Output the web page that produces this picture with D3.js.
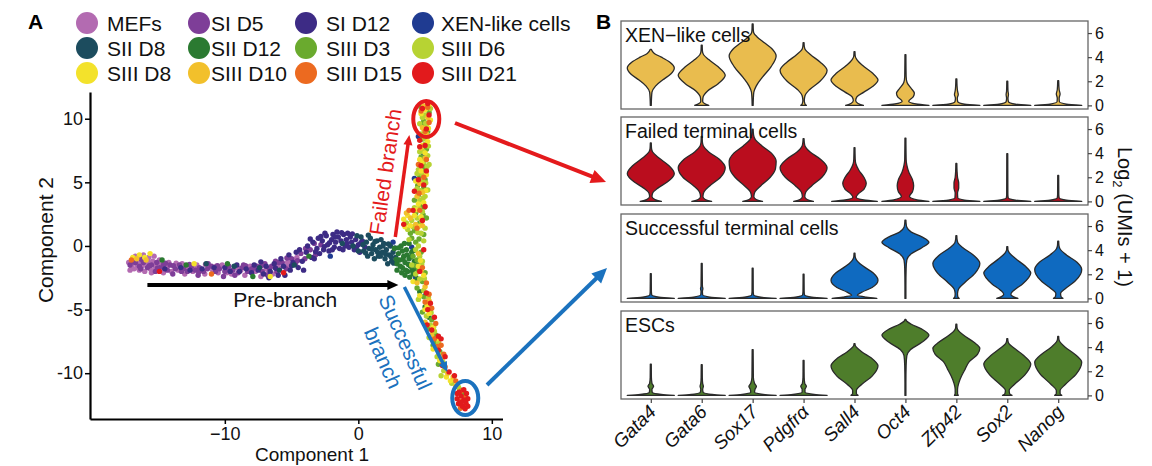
<!DOCTYPE html>
<html><head><meta charset="utf-8">
<script src="https://cdn.jsdelivr.net/npm/d3@7"></script>
<style>body{margin:0;background:#fff}svg{display:block}</style>
</head><body><svg id="c" width="1152" height="466"></svg>
<script>
// ---------------- DATA ----------------
const legendLabels = ["MEFs","SI D5","SI D12","XEN-like cells","SII D8","SII D12","SIII D3","SIII D6","SIII D8","SIII D10","SIII D15","SIII D21"];
const legendColors = ["#B36BB1","#7E3E98","#3D2B85","#1F3B91","#1C4C5E","#2B7A31","#6AAA2E","#B7D333","#F3E22B","#F2C02B","#EC6A20","#E21A1C"];

// cells: flat [x, y, x, y, ...] in Component 1 / Component 2 units
const cellsMEFs = [-17.2,-1.3,-17.0,-1.6,-16.9,-1.1,-16.8,-1.8,-16.6,-1.4,-16.5,-0.9,-16.4,-1.9,-16.3,-1.2,-16.2,-1.6,-16.0,-2.0,-15.9,-1.0,-15.8,-1.4,-15.6,-1.8,-15.5,-2.1,-15.4,-1.2,-15.2,-1.6,-15.0,-1.9,-14.8,-1.4,-14.6,-2.1,-14.4,-1.7,-14.2,-1.3,-14.0,-2.0,-13.8,-1.6,-13.5,-1.9,-13.2,-1.4,-13.0,-2.2,-12.7,-1.7,-12.4,-2.0,-12.1,-1.5,-11.8,-1.9,-11.5,-2.2,-11.2,-1.6,-10.9,-1.9,-10.5,-2.1,-10.2,-1.5,-9.9,-1.8,-9.5,-2.2,-9.2,-1.7,-8.8,-1.9,-8.5,-2.3,-8.1,-1.6,-7.7,-2.0,-7.3,-2.4,-6.9,-1.8,-6.4,-2.2,-5.9,-1.7,-5.3,-1.3,-4.6,-0.9,-16.7,-0.8,-16.1,-0.7,-15.7,-0.9,-15.3,-0.8,-17.1,-1.9,-14.9,-1.1,
 -16.95,-1.45,-16.55,-1.7,-16.15,-1.45,-15.75,-1.25,-15.35,-1.95,-14.75,-1.75,-14.25,-1.55,-13.65,-1.35,-12.95,-1.75,-12.25,-1.75,-11.45,-1.45,-10.65,-1.6,-9.85,-2.1,-9.0,-1.75,-8.25,-1.9,-7.45,-1.75,-6.75,-2.05,-6.05,-1.5,-5.25,-1.6,-4.85,-1.1];
const cellsSID5 = [-17.1,-1.5,-16.7,-1.3,-16.4,-1.6,-16.1,-1.3,-15.8,-1.7,-15.5,-1.5,-15.1,-1.3,-14.9,-1.7,-14.6,-1.5,-14.3,-1.9,-14.1,-1.5,-13.7,-1.8,-13.4,-1.5,-13.1,-1.8,-12.8,-2.0,-12.5,-1.6,-12.2,-1.9,-11.9,-1.7,-11.6,-2.0,-11.3,-1.8,-11.0,-1.6,-10.7,-2.0,-10.4,-1.8,-10.0,-2.0,-9.7,-1.6,-9.4,-1.9,-9.0,-2.1,-8.7,-1.7,-8.3,-2.0,-8.0,-1.8,-7.6,-1.6,-7.2,-2.0,-6.8,-2.3,-6.5,-1.6,-6.1,-2.0,-5.7,-1.3,-5.4,-1.8,-5.0,-1.0,-4.7,-1.4,-4.3,-0.6,-4.0,-1.0,-3.6,-0.3,-3.2,-0.7,-2.8,0.1,-13.9,-2.2,-12.0,-2.3,-10.1,-2.4,-8.6,-1.5,-7.0,-1.4,-6.2,-1.2,-16.3,-1.8,-15.2,-2.0,
 -16.85,-1.25,-16.25,-1.05,-15.65,-1.55,-15.05,-1.75,-14.45,-1.35,-13.85,-1.55,-13.25,-2.0,-12.65,-1.45,-11.95,-2.05,-11.25,-1.4,-10.55,-1.55,-9.75,-1.85,-9.25,-2.3,-8.45,-1.55,-7.85,-1.75,-7.25,-1.55,-6.65,-1.8,-5.95,-1.3,-5.35,-0.95,-4.55,-1.15,-3.95,-0.2,-3.3,0.2];
const cellsSID12 = [-14.5,-1.8,-13.3,-1.7,-12.6,-1.9,-11.7,-1.8,-10.8,-1.7,-10.0,-1.7,-9.6,-2.0,-9.1,-1.5,-8.9,-2.0,-8.4,-1.8,-8.0,-2.1,-7.8,-1.5,-7.5,-1.9,-7.1,-2.2,-6.9,-1.6,-6.6,-2.0,-6.3,-1.4,-6.0,-2.3,-5.8,-1.0,-5.6,-1.6,-5.2,-0.7,-5.1,-1.9,-4.9,-1.3,-4.5,-1.7,-4.4,-0.3,-4.2,-1.2,-3.9,-0.5,-3.8,0.0,-3.5,-0.9,-3.4,0.3,-3.1,-0.2,-3.0,0.6,-2.9,-0.6,-2.7,0.4,-2.6,-0.3,-2.4,0.8,-2.3,0.1,-2.2,-0.4,-2.0,0.5,-1.9,0.9,-1.8,-0.1,-1.7,0.3,-1.5,0.7,-1.4,-0.2,-1.3,0.4,-1.1,0.9,-1.0,0.0,-0.9,0.5,-0.7,-0.1,-0.6,0.7,-0.5,0.3,-0.3,-0.3,-0.2,0.5,0.0,0.1,0.1,-0.5,0.3,0.4,0.5,-0.1,-2.5,1.0,-1.6,1.1,-0.8,1.0,-3.3,-1.0,-4.1,-1.9,-6.7,-2.5,-5.5,-2.3,
 -3.6,0.55,-3.2,-0.45,-2.8,0.75,-2.55,-0.05,-2.15,0.25,-1.95,-0.3,-1.75,0.7,-1.25,1.05,-1.15,-0.3,-0.85,0.2,-0.45,0.95,-0.15,-0.1,0.2,0.25,-4.65,-0.5,-5.0,-1.55,-6.2,-1.75,-7.3,-1.25];
const cellsXEN = [-2.1,-0.8,4.2,5.3,4.5,8.6,4.0,-0.1,4.3,-2.5,5.0,-3.9,2.6,0.3,4.9,7.2];
const cellsSIID8 = [-11.4,-1.4,-9.3,-1.6,-7.4,-1.7,-5.9,-1.9,-4.8,-1.5,-1.2,0.2,-0.4,0.0,0.2,0.7,0.4,-0.4,0.6,0.3,0.8,-0.2,0.9,0.6,1.0,-0.6,1.1,0.1,1.3,-0.3,1.4,0.4,1.5,-0.8,1.6,-0.1,1.8,-0.5,1.9,0.2,2.0,-1.0,2.1,-0.3,2.3,-0.7,2.4,0.0,2.5,-1.2,2.6,-0.5,2.8,-0.9,0.7,-0.8,1.2,-1.0,0.0,-0.4,-0.1,0.8,1.7,0.5,2.2,-1.4,
 0.35,0.1,0.55,-0.55,0.75,0.85,1.05,-0.25,1.25,0.35,1.45,-0.5,1.65,-0.8,1.85,0.0,2.05,-0.65,2.25,0.15,2.45,-0.85,2.65,-1.35,2.75,-0.15];
const cellsSIID12 = [-14.7,-1.1,-12.9,-1.5,-9.8,-1.4,-7.9,-2.4,-3.7,-0.8,2.7,-0.2,2.9,-1.4,3.0,-0.6,3.1,-1.1,3.2,0.0,3.3,-1.7,3.4,-0.8,3.5,-1.3,3.6,-0.3,3.7,-2.0,3.8,-1.0,3.9,-1.6,4.0,-0.5,4.1,-2.2,4.2,-1.2,3.3,-0.4,3.5,-2.3,3.8,0.2,4.3,-1.8,2.9,-1.9,4.4,-2.6,4.6,-3.6,5.0,-4.8,5.3,-5.6,5.6,-6.9,4.8,2.3,5.0,6.0,4.5,-1.5,
 3.0,-0.15,3.15,-1.6,3.35,-1.05,3.45,0.2,3.55,-1.9,3.65,-0.7,3.75,-1.45,3.95,-0.85,4.05,-1.95,4.15,-0.35,3.25,-2.1,3.85,-2.45,2.85,-1.05];
const cellsSIIID3 = [4.3,0.3,4.7,-0.5,4.2,1.2,4.6,1.8,4.9,0.9,4.3,2.6,4.7,3.1,4.5,4.0,4.9,4.6,4.6,5.5,5.0,6.1,4.7,7.0,5.1,7.6,4.8,8.4,5.2,9.0,4.9,9.8,5.3,10.5,4.7,10.9,4.1,-0.8,4.5,-1.9,4.8,-2.8,4.4,-3.3,4.9,-4.0,5.2,-4.6,4.8,-5.2,5.5,-5.8,5.2,-6.5,5.8,-7.0,5.6,-7.8,6.1,-8.3,6.3,-9.2,7.6,-11.3,7.9,-11.6,4.0,0.6,3.9,1.0,4.4,-1.1,5.1,2.2,4.2,3.6,5.0,5.2,
 4.25,-1.55,4.55,0.55,4.35,1.65,4.85,2.45,4.95,3.05,4.45,4.75,4.9,6.35,4.8,9.45,5.0,-2.1,5.35,-5.05,5.8,-7.5,6.0,-9.3];
const cellsSIIID6 = [3.8,0.5,4.1,1.5,4.5,0.0,4.8,-1.2,4.3,-2.2,4.6,-0.8,4.0,-1.5,4.9,0.4,4.4,2.2,4.8,2.7,4.2,3.0,4.6,3.6,5.0,3.9,4.4,4.5,4.8,5.1,4.5,6.0,4.9,6.6,5.2,7.1,4.6,7.4,5.0,8.0,4.7,8.8,5.2,8.6,5.1,9.4,4.8,10.1,5.4,10.8,5.0,10.3,4.6,9.6,4.6,-2.6,4.9,-3.5,4.5,-4.2,5.1,-5.5,5.4,-6.2,5.3,-7.2,5.7,-6.7,6.0,-7.6,5.9,-8.7,6.4,-9.8,6.2,-10.2,7.0,-10.8,7.5,-11.1,3.6,1.8,3.7,1.3,4.0,2.0,5.0,1.4,5.2,4.4,4.4,5.7,5.3,6.4,4.3,-0.3,4.7,1.0,
 4.45,1.05,4.75,1.95,4.55,2.95,4.85,3.75,4.65,4.35,5.05,4.95,4.75,5.65,5.15,6.25,4.85,7.45,5.25,7.85,4.95,8.45,5.05,9.65,4.75,-1.45,4.95,-2.55,5.25,-4.05,5.45,-5.25,5.65,-6.35,6.05,-8.45,6.35,-9.15];
const cellsSIIID8 = [-16.9,-0.9,-16.4,-0.7,-16.0,-0.9,-15.6,-0.6,-12.3,-1.4,-6.6,-2.4,3.5,1.5,3.4,2.1,3.7,2.4,3.9,1.6,4.2,2.4,4.7,2.3,4.5,3.3,4.9,3.4,4.3,5.1,4.7,5.9,5.1,5.6,4.6,6.8,5.0,7.3,4.8,7.9,5.2,8.2,4.9,9.2,5.4,9.9,5.0,10.7,5.3,11.1,4.7,10.4,4.5,-1.6,4.9,-2.3,4.6,-3.9,5.0,-5.0,5.3,-5.3,5.6,-6.4,5.9,-7.3,6.1,-9.0,6.6,-10.3,6.9,-10.6,4.1,-2.8,5.6,-8.1,
 4.55,1.55,4.35,2.85,5.05,4.35,4.75,6.55,5.25,9.25,4.65,-1.15,5.15,-4.7,5.95,-8.0];
const cellsSIIID10 = [-16.6,-1.0,-15.9,-1.1,3.6,2.6,3.9,2.2,4.3,1.7,4.8,1.6,4.4,3.9,4.8,4.2,4.6,4.9,5.0,6.9,4.7,7.7,5.1,8.8,4.8,9.3,5.2,10.1,4.9,11.0,4.5,-0.6,4.7,-1.9,4.4,-2.9,5.0,-3.2,5.3,-4.3,5.0,-6.0,5.5,-7.0,6.0,-8.0,6.3,-8.8,6.7,-10.0,7.1,-10.3,7.3,-11.0];
const cellsSIIID15 = [-17.0,-1.1,-11.0,-2.2,3.8,2.8,4.4,1.4,4.6,2.8,4.9,5.4,4.5,6.4,5.1,6.8,5.0,9.0,5.3,9.7,4.7,10.6,5.2,10.9,4.8,-1.7,5.1,-2.9,5.3,-3.8,5.0,-4.4,5.5,-4.9,5.8,-6.1,5.7,-7.3,6.2,-7.8,6.4,-8.5,6.5,-9.5,7.3,-10.6,7.7,-11.4,8.0,-11.9,7.6,-12.2,8.1,-12.5,5.9,-7.9,4.55,4.15,7.65,-12.75];
const cellsSIIID21 = [-14.9,-2.0,-5.6,-2.1,3.4,1.7,4.1,2.8,4.8,2.0,4.2,4.3,4.9,4.8,4.5,5.2,5.1,5.9,4.7,6.3,5.0,7.9,4.6,8.3,5.1,9.2,5.3,10.3,4.8,10.8,5.2,11.2,4.9,-0.3,4.6,-2.0,5.1,-3.7,5.4,-4.5,5.2,-5.0,5.7,-5.6,5.5,-6.6,6.0,-7.1,6.2,-7.3,6.0,-8.2,6.5,-8.7,6.3,-9.4,6.8,-9.9,7.2,-10.2,7.4,-11.6,7.7,-11.8,7.9,-12.1,8.2,-12.0,7.5,-12.4,7.8,-12.6,8.0,-12.8,7.7,-12.3,8.2,-12.6,7.4,-12.0,7.9,-11.3,8.1,-11.6,5.0,3.1,4.6,7.8,5.15,-6.2,7.55,-11.5,8.05,-12.3];
const cellGroups = [cellsMEFs,cellsSID5,cellsSID12,cellsXEN,cellsSIID8,cellsSIID12,cellsSIIID3,cellsSIIID6,cellsSIIID8,cellsSIIID10,cellsSIIID15,cellsSIIID21];

const xTicksA = [-10,0,10];
const xTickLabelsA = ["\u221210","0","10"];
const yTicksA = [10,5,0,-5,-10];
const yTickLabelsA = ["10","5","0","-5","-10"];

// annotation anchors in Component units
const preArrow = [[-15.8,-3.07],[3.0,-3.07]];
const failArrow = [[2.77,0.71],[3.82,8.73]];
const succArrow = [[3.45,-3.22],[6.67,-9.9]];
const failCircle = [5.09,9.98];
const succCircle = [8.01,-11.95];

// Panel B
const genes = ["Gata4","Gata6","Sox17","Pdgfr\u03b1","Sall4","Oct4","Zfp42","Sox2","Nanog"];
const panelTitles = ["XEN\u2212like cells","Failed terminal cells","Successful terminal cells","ESCs"];
const panelColors = ["#E9BC4E","#BA0D1E","#0F6AC0","#4E7D2B"];
const yTicksB = [0,2,4,6];
// violin profiles: [log2(UMI+1), relative density width]
const violinsXEN = [
 [[0,0.02],[0.6,0.03],[1.1,0.05],[1.6,0.2],[2.1,0.5],[2.6,0.85],[3.1,1.0],[3.6,0.8],[4.0,0.45],[4.3,0.15],[4.65,0.02]],
 [[0,0.3],[0.15,0.12],[0.35,0.04],[0.7,0.06],[1.2,0.25],[1.8,0.7],[2.5,1.0],[3.2,0.7],[3.8,0.3],[4.2,0.08],[4.5,0.03],[5.0,0.02]],
 [[0,0.02],[0.6,0.03],[1.1,0.05],[1.6,0.15],[2.3,0.4],[3.2,0.78],[4.1,1.0],[4.7,0.82],[5.2,0.5],[5.7,0.18],[6.0,0.05],[6.2,0.03],[6.75,0.02]],
 [[0,0.12],[0.12,0.06],[0.4,0.03],[0.8,0.06],[1.3,0.25],[2.0,0.7],[2.9,1.0],[3.6,0.7],[4.2,0.3],[4.6,0.08],[4.9,0.03],[5.2,0.02]],
 [[0,0.38],[0.15,0.15],[0.4,0.05],[0.7,0.1],[1.1,0.4],[1.6,0.8],[2.1,1.0],[2.7,0.75],[3.3,0.35],[3.8,0.1],[4.1,0.03],[4.45,0.02]],
 [[0,1.0],[0.12,0.45],[0.35,0.14],[0.7,0.33],[1.0,0.38],[1.4,0.25],[1.9,0.07],[2.4,0.03],[4.2,0.02]],
 [[0,1.0],[0.1,0.35],[0.3,0.06],[0.6,0.04],[0.9,0.08],[1.2,0.05],[1.6,0.03],[2.2,0.02]],
 [[0,1.0],[0.1,0.35],[0.3,0.05],[0.6,0.03],[0.9,0.05],[1.2,0.03],[2.0,0.02]],
 [[0,1.0],[0.1,0.35],[0.3,0.05],[0.6,0.04],[0.95,0.08],[1.3,0.04],[2.05,0.02]]
];
const violinsFailed = [
 [[0,0.45],[0.15,0.18],[0.4,0.05],[0.7,0.08],[1.1,0.3],[1.6,0.7],[2.3,1.0],[3.0,0.75],[3.6,0.35],[4.1,0.08],[4.4,0.03],[4.85,0.02]],
 [[0,0.42],[0.15,0.15],[0.4,0.05],[0.8,0.1],[1.3,0.35],[2.0,0.8],[2.8,1.0],[3.5,0.75],[4.1,0.3],[4.6,0.07],[4.9,0.03],[5.4,0.02]],
 [[0,0.42],[0.15,0.15],[0.4,0.05],[0.8,0.1],[1.3,0.35],[2.0,0.75],[2.7,0.97],[3.3,1.0],[4.0,0.8],[4.6,0.4],[5.1,0.12],[5.5,0.04],[6.0,0.02]],
 [[0,0.42],[0.15,0.15],[0.4,0.05],[0.8,0.1],[1.3,0.35],[2.0,0.78],[2.8,1.0],[3.5,0.72],[4.1,0.28],[4.6,0.06],[4.9,0.03],[5.2,0.02]],
 [[0,0.97],[0.12,0.4],[0.35,0.07],[0.6,0.15],[1.0,0.4],[1.5,0.5],[2.0,0.4],[2.6,0.18],[3.1,0.06],[3.5,0.03],[4.45,0.02]],
 [[0,1.0],[0.12,0.5],[0.4,0.17],[0.8,0.3],[1.3,0.35],[1.8,0.3],[2.4,0.15],[3.0,0.06],[3.5,0.03],[5.25,0.02]],
 [[0,1.0],[0.1,0.35],[0.3,0.06],[0.7,0.05],[1.1,0.1],[1.5,0.1],[2.0,0.05],[2.5,0.03],[3.15,0.02]],
 [[0,1.0],[0.1,0.35],[0.3,0.04],[0.6,0.025],[3.95,0.02]],
 [[0,1.0],[0.1,0.35],[0.3,0.04],[0.6,0.025],[2.15,0.02]]
];
const violinsSuccess = [
 [[0,1.0],[0.1,0.35],[0.3,0.04],[0.6,0.025],[2.05,0.02]],
 [[0,1.0],[0.1,0.35],[0.3,0.04],[0.6,0.03],[0.8,0.05],[1.0,0.03],[2.9,0.02]],
 [[0,1.0],[0.1,0.35],[0.3,0.04],[0.6,0.025],[2.5,0.02]],
 [[0,1.0],[0.1,0.35],[0.3,0.04],[0.6,0.025],[2.0,0.02]],
 [[0,0.95],[0.1,0.5],[0.25,0.12],[0.5,0.3],[0.9,0.75],[1.5,1.0],[2.1,0.8],[2.7,0.35],[3.2,0.08],[3.45,0.03],[3.75,0.02]],
 [[0,0.02],[1.0,0.02],[2.5,0.03],[3.2,0.06],[3.7,0.25],[4.2,0.7],[4.65,1.0],[5.1,0.7],[5.5,0.25],[5.9,0.06],[6.2,0.03],[6.5,0.02]],
 [[0,0.12],[0.15,0.06],[0.4,0.05],[0.8,0.1],[1.3,0.35],[2.1,0.8],[2.9,1.0],[3.6,0.72],[4.2,0.28],[4.6,0.07],[4.9,0.03],[5.2,0.02]],
 [[0,0.45],[0.15,0.25],[0.35,0.15],[0.7,0.3],[1.2,0.65],[1.7,0.9],[2.1,1.0],[2.7,0.75],[3.3,0.35],[3.8,0.08],[4.0,0.03],[4.3,0.02]],
 [[0,0.2],[0.15,0.12],[0.4,0.1],[0.8,0.3],[1.4,0.7],[2.0,0.95],[2.4,1.0],[3.0,0.8],[3.6,0.35],[4.1,0.08],[4.4,0.03],[4.75,0.02]]
];
const violinsESC = [
 [[0,1.0],[0.08,0.45],[0.25,0.06],[0.5,0.05],[0.75,0.12],[1.0,0.05],[1.5,0.025],[2.6,0.02]],
 [[0,1.0],[0.08,0.45],[0.25,0.06],[0.5,0.04],[0.75,0.07],[1.0,0.04],[1.5,0.025],[2.55,0.02]],
 [[0,1.0],[0.08,0.45],[0.25,0.08],[0.5,0.1],[0.75,0.16],[1.0,0.08],[1.5,0.03],[3.8,0.02]],
 [[0,1.0],[0.08,0.45],[0.25,0.06],[0.5,0.06],[0.75,0.12],[1.0,0.05],[1.5,0.025],[2.9,0.02]],
 [[0,0.15],[0.15,0.08],[0.4,0.08],[0.9,0.3],[1.6,0.75],[2.45,1.0],[3.1,0.72],[3.6,0.32],[4.0,0.08],[4.15,0.03],[4.3,0.02]],
 [[0,0.02],[1.0,0.02],[2.5,0.03],[3.3,0.06],[3.8,0.22],[4.4,0.7],[5.0,1.0],[5.5,0.7],[5.9,0.25],[6.15,0.06],[6.3,0.02]],
 [[0,0.08],[0.15,0.05],[0.5,0.05],[1.0,0.1],[1.6,0.22],[2.2,0.38],[2.8,0.55],[3.4,0.9],[3.9,1.0],[4.4,0.75],[5.0,0.3],[5.4,0.08],[5.6,0.03],[5.9,0.02]],
 [[0,0.2],[0.15,0.1],[0.4,0.08],[0.9,0.3],[1.7,0.75],[2.6,1.0],[3.3,0.7],[3.9,0.3],[4.3,0.07],[4.5,0.03],[4.7,0.02]],
 [[0,0.15],[0.15,0.08],[0.4,0.08],[0.9,0.3],[1.8,0.78],[2.75,1.0],[3.4,0.72],[4.0,0.3],[4.45,0.07],[4.65,0.03],[4.9,0.02]]
];
const panelViolins = [violinsXEN, violinsFailed, violinsSuccess, violinsESC];

// ---------------- DRAW ----------------
const FONT = '"Liberation Sans", Arial, Helvetica, sans-serif';
const svg = d3.select("#c").attr("font-family", FONT);

function arrow(g, x1, y1, x2, y2, color, w, hl, hw) {
  const dx = x2 - x1, dy = y2 - y1, L = Math.hypot(dx, dy), ux = dx / L, uy = dy / L;
  const bx = x2 - ux * hl, by = y2 - uy * hl;
  g.append("line").attr("x1", x1).attr("y1", y1).attr("x2", bx + ux * 1).attr("y2", by + uy * 1)
    .attr("stroke", color).attr("stroke-width", w);
  g.append("path").attr("d", `M${x2},${y2}L${bx - uy * hw / 2},${by + ux * hw / 2}L${bx + uy * hw / 2},${by - ux * hw / 2}Z`)
    .attr("fill", color);
}

// Panel labels
svg.append("text").attr("x", 28).attr("y", 29).attr("font-size", 21).attr("font-weight", "bold").text("A");
svg.append("text").attr("x", 596).attr("y", 29).attr("font-size", 21).attr("font-weight", "bold").text("B");

// Legend
const legCircleX = [87, 199, 306, 423], legTextX = [107, 211, 326, 441], legRowY = [23, 48, 73];
const leg = svg.append("g");
legendLabels.forEach((lab, i) => {
  const c = i % 4, r = Math.floor(i / 4);
  leg.append("circle").attr("cx", legCircleX[c]).attr("cy", legRowY[r]).attr("r", 11).attr("fill", legendColors[i]);
  leg.append("text").attr("x", legTextX[c]).attr("y", legRowY[r]).attr("dy", "0.36em").attr("font-size", 21).attr("fill", "#111").text(lab);
});

// Panel A scales
const xA = d3.scaleLinear().domain([-20.1, 10.8]).range([90, 502.5]);
const yA = d3.scaleLinear().domain([-13.6, 12.1]).range([419, 92]);
const gA = svg.append("g");

gA.append("g").attr("transform", "translate(0,419)")
  .call(d3.axisBottom(xA).tickValues(xTicksA).tickFormat((d, i) => xTickLabelsA[i]).tickSize(5).tickSizeOuter(0).tickPadding(3))
  .call(g => g.select(".domain").attr("stroke", "#000").attr("stroke-width", 2.2))
  .call(g => g.selectAll(".tick line").attr("stroke", "#000").attr("stroke-width", 1.5))
  .call(g => g.selectAll("text").attr("font-size", 18).attr("font-family", FONT).attr("fill", "#111"));
gA.append("g").attr("transform", "translate(90,0)")
  .call(d3.axisLeft(yA).tickValues(yTicksA).tickFormat((d, i) => yTickLabelsA[i]).tickSize(5).tickSizeOuter(0).tickPadding(2))
  .call(g => g.select(".domain").attr("stroke", "#000").attr("stroke-width", 2.2))
  .call(g => g.selectAll(".tick line").attr("stroke", "#000").attr("stroke-width", 1.5))
  .call(g => g.selectAll("text").attr("font-size", 18).attr("font-family", FONT).attr("fill", "#111"));

gA.append("text").attr("x", 312).attr("y", 461).attr("text-anchor", "middle").attr("font-size", 19).attr("fill", "#111").text("Component 1");
gA.append("text").attr("transform", "translate(53,240) rotate(-90)").attr("text-anchor", "middle").attr("font-size", 21).attr("fill", "#111").text("Component 2");

// cells
const gPts = gA.append("g");
cellGroups.forEach((arr, gi) => {
  const pts = d3.range(0, arr.length, 2).map(k => [arr[k], arr[k + 1]]);
  gPts.selectAll(null).data(pts).join("circle")
    .attr("cx", d => xA(d[0])).attr("cy", d => yA(d[1])).attr("r", 2.7)
    .attr("fill", legendColors[gi]);
});

// annotations
const ann = gA.append("g");
const P = p => [xA(p[0]), yA(p[1])];
let a = P(preArrow[0]), b = P(preArrow[1]);
arrow(ann, a[0], a[1], b[0], b[1], "#000", 4, 11, 10);
a = P(failArrow[0]); b = P(failArrow[1]);
arrow(ann, a[0], a[1], b[0], b[1], "#E41A1C", 3.5, 10, 9);
a = P(succArrow[0]); b = P(succArrow[1]);
arrow(ann, a[0], a[1], b[0], b[1], "#1B72BE", 3.5, 10, 9);
let c1 = P(failCircle), c2 = P(succCircle);
ann.append("ellipse").attr("cx", c1[0]).attr("cy", c1[1]).attr("rx", 13).attr("ry", 18).attr("fill", "none").attr("stroke", "#E41A1C").attr("stroke-width", 4);
ann.append("ellipse").attr("cx", c2[0]).attr("cy", c2[1]).attr("rx", 13).attr("ry", 17).attr("fill", "none").attr("stroke", "#1B72BE").attr("stroke-width", 4);

ann.append("text").attr("x", xA(-9.36)).attr("y", yA(-4.8)).attr("font-size", 21).attr("fill", "#111").text("Pre-branch");
ann.append("text").attr("transform", `translate(${xA(2.02)},${yA(5.82)}) rotate(-81.7)`).attr("text-anchor", "middle").attr("dy", "0.35em")
  .attr("font-size", 21).attr("fill", "#E41A1C").text("Failed branch");
ann.append("text").attr("transform", `translate(${xA(3.52)},${yA(-7.55)}) rotate(66)`).attr("text-anchor", "middle").attr("dy", "0.35em")
  .attr("font-size", 21).attr("fill", "#1B72BE").text("Successful");
ann.append("text").attr("transform", `translate(${xA(1.87)},${yA(-8.8)}) rotate(66)`).attr("text-anchor", "middle").attr("dy", "0.35em")
  .attr("font-size", 21).attr("fill", "#1B72BE").text("branch");

// long connecting arrows
arrow(svg, 455, 123, 606, 182, "#E41A1C", 4, 15, 14);
arrow(svg, 487, 385, 607, 268, "#1B72BE", 4, 15, 14);

// Panel B
const boxTops = [21, 117, 214, 311], boxH = 88, boxL = 621, boxR = 1088, halfW = 23.5;
const xB = d3.scalePoint().domain(genes).range([boxL, boxR]).padding(0.585);
panelViolins.forEach((vs, pi) => {
  const top = boxTops[pi];
  const yB = d3.scaleLinear().domain([-0.3, 7.0]).range([top + boxH, top]);
  const g = svg.append("g");
  vs.forEach((prof, gi) => {
    const cx = xB(genes[gi]);
    const area = d3.area().curve(d3.curveMonotoneY)
      .y(d => yB(d[0])).x0(d => cx - d[1] * halfW).x1(d => cx + d[1] * halfW);
    g.append("path").attr("d", area(prof)).attr("fill", panelColors[pi])
      .attr("stroke", "#2a2a2a").attr("stroke-width", 1.3).attr("stroke-linejoin", "round");
  });
  g.append("rect").attr("x", boxL).attr("y", top).attr("width", boxR - boxL).attr("height", boxH)
    .attr("fill", "none").attr("stroke", "#666").attr("stroke-width", 1.3);
  g.append("text").attr("x", 625).attr("y", top + 21).attr("font-size", 19.5).attr("fill", "#111").text(panelTitles[pi]);
  g.append("g").attr("transform", `translate(${boxR},0)`)
    .call(d3.axisRight(yB).tickValues(yTicksB).tickSize(4).tickPadding(3))
    .call(s => s.select(".domain").remove())
    .call(s => s.selectAll(".tick line").attr("stroke", "#444").attr("stroke-width", 1.2))
    .call(s => s.selectAll("text").attr("font-size", 16).attr("font-family", FONT).attr("fill", "#111"));
});
// bottom gene axis
const lastBottom = boxTops[3] + boxH;
const gx = svg.append("g").attr("transform", `translate(0,${lastBottom})`)
  .call(d3.axisBottom(xB).tickSize(4).tickSizeOuter(0))
  .call(s => s.select(".domain").remove())
  .call(s => s.selectAll(".tick line").attr("stroke", "#444").attr("stroke-width", 1.2));
gx.selectAll("text").attr("font-size", 19).attr("font-family", FONT).attr("font-style", "italic").attr("fill", "#111")
  .attr("text-anchor", "end").attr("dy", null).attr("y", null)
  .attr("transform", "translate(6,14) rotate(-45)");

// y title panel B
const yt = svg.append("text").attr("transform", "translate(1118,217) rotate(90)").attr("text-anchor", "middle").attr("font-size", 20).attr("fill", "#111");
yt.append("tspan").text("Log");
yt.append("tspan").attr("font-size", 13).attr("dy", 5).text("2");
yt.append("tspan").attr("dy", -5).text(" (UMIs + 1)");
</script></body></html>
